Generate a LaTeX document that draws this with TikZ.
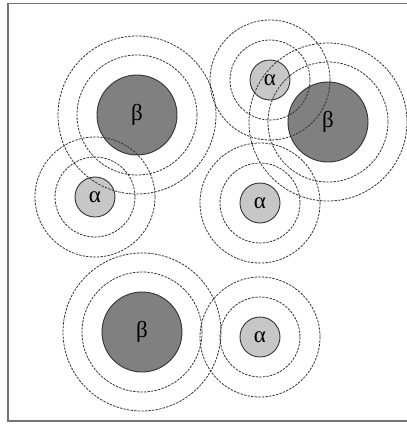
\documentclass[tikz,border=0pt]{standalone}
\usepackage{fontspec}
\setmainfont{Liberation Serif}
\begin{document}
\begin{tikzpicture}[x=1pt,y=-1pt,
  ring/.style={draw=black!80, line width=0.8pt, dash pattern=on 2.4pt off 1.2pt},
  alphap/.style={circle, draw=black!80, line width=0.9pt, fill=black!22, minimum size=40pt, inner sep=0pt, font=\fontsize{23}{24}\selectfont},
  betap/.style={circle, draw=black!80, line width=0.9pt, fill=black!50, minimum size=80pt, inner sep=0pt, font=\fontsize{23}{24}\selectfont}]
\useasboundingbox (0,0) rectangle (407,424);
\fill[white] (0,0) rectangle (407,424);
% particles
\node[betap]  (b1) at (137,115) {β};
\node[betap]  (b2) at (328,122) {β};
\node[betap]  (b3) at (142,332) {β};
\node[alphap] (a1) at (95,197) {α};
\node[alphap] (a2) at (270,80) {α};
\node[alphap] (a3) at (260,203) {α};
\node[alphap] (a4) at (260,337) {α};
% rings
\foreach \n in {b1,b2,b3} {
  \draw[ring] (\n.center) circle (60);
  \draw[ring] (\n.center) circle (79);
}
\foreach \n in {a1,a2,a3,a4} {
  \draw[ring] (\n.center) circle (40);
  \draw[ring] (\n.center) circle (60);
}
% frame
\draw[black!55, line width=1.5pt] (410,3.5) -- (8,3.5) -- (8,421) -- (410,421);
\end{tikzpicture}
\end{document}
